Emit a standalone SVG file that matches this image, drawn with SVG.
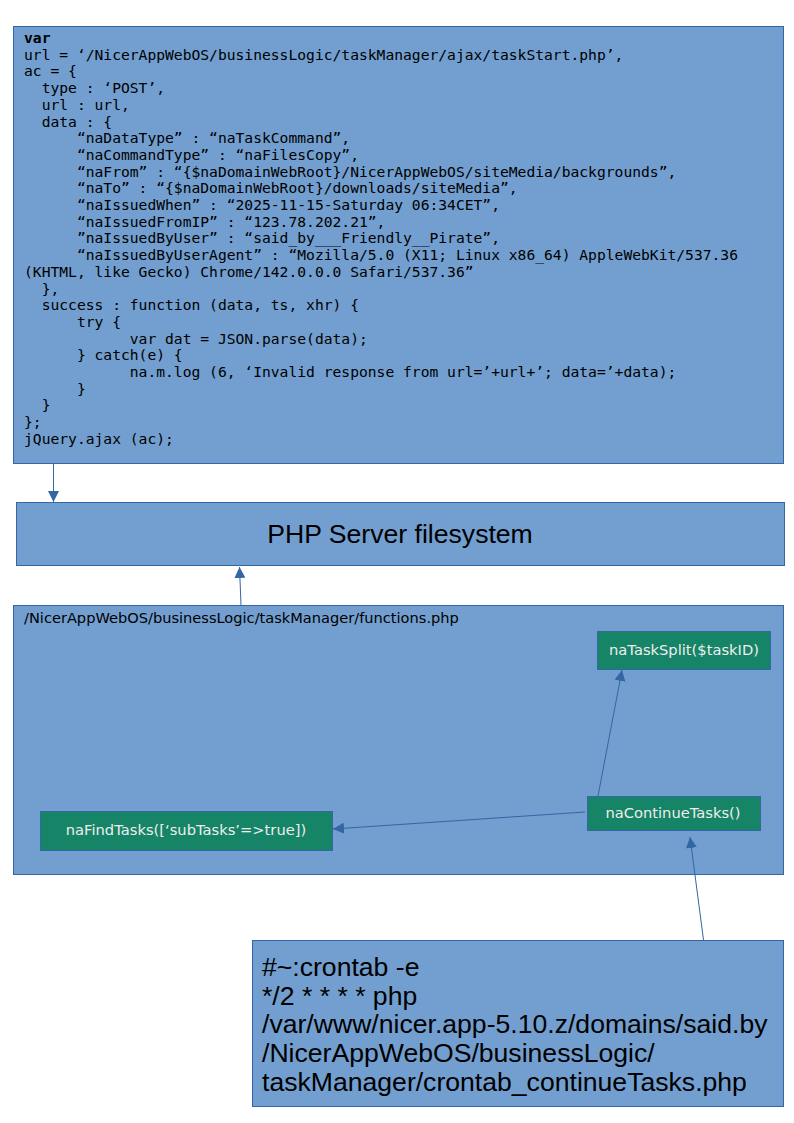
<svg xmlns="http://www.w3.org/2000/svg" width="794" height="1123" viewBox="0 0 794 1123">
<defs>
<marker id="ah" viewBox="0 0 10 10" refX="10" refY="5" markerWidth="11" markerHeight="11" markerUnits="userSpaceOnUse" orient="auto">
<path d="M0,0 L10,5 L0,10 z" fill="#3465a4"/>
</marker>
</defs>
<style>
.box{fill:#729fcf;stroke:#3465a4;stroke-width:1}
.fn{fill:#168466;stroke:#3465a4;stroke-width:1}
.code{font-family:"DejaVu Sans Mono",monospace;font-size:14.65px;fill:#000;white-space:pre}
.fnt{font-family:"DejaVu Sans",sans-serif;font-size:14.7px;fill:#eeeeee;text-anchor:middle}
.con{stroke:#3465a4;stroke-width:1;fill:none;marker-end:url(#ah)}
.big{font-family:"Liberation Sans",Arial,sans-serif;font-size:26.6px;fill:#000}
</style>
<rect width="794" height="1123" fill="#fff"/>
<g id="code">
<rect class="box" x="13.5" y="26.5" width="770" height="437"/>
<text class="code" xml:space="preserve">
<tspan x="24" y="43" font-weight="bold">var</tspan>
<tspan x="24" y="59.7">url = ‘/NicerAppWebOS/businessLogic/taskManager/ajax/taskStart.php’,</tspan>
<tspan x="24" y="76.4">ac = {</tspan>
<tspan x="24" y="93.1">  type : ‘POST’,</tspan>
<tspan x="24" y="109.8">  url : url,</tspan>
<tspan x="24" y="126.5">  data : {</tspan>
<tspan x="24" y="143.2">      “naDataType” : “naTaskCommand”,</tspan>
<tspan x="24" y="159.9">      “naCommandType” : “naFilesCopy”,</tspan>
<tspan x="24" y="176.6">      “naFrom” : “{$naDomainWebRoot}/NicerAppWebOS/siteMedia/backgrounds”,</tspan>
<tspan x="24" y="193.3">      “naTo” : “{$naDomainWebRoot}/downloads/siteMedia”,</tspan>
<tspan x="24" y="210">      “naIssuedWhen” : “2025-11-15-Saturday 06:34CET”,</tspan>
<tspan x="24" y="226.7">      “naIssuedFromIP” : “123.78.202.21”,</tspan>
<tspan x="24" y="243.4">      ”naIssuedByUser” : “said_by___Friendly__Pirate”,</tspan>
<tspan x="24" y="260.1">      “naIssuedByUserAgent” : “Mozilla/5.0 (X11; Linux x86_64) AppleWebKit/537.36</tspan>
<tspan x="24" y="276.8">(KHTML, like Gecko) Chrome/142.0.0.0 Safari/537.36”</tspan>
<tspan x="24" y="293.5">  },</tspan>
<tspan x="24" y="310.2">  success : function (data, ts, xhr) {</tspan>
<tspan x="24" y="326.9">      try {</tspan>
<tspan x="24" y="343.6">            var dat = JSON.parse(data);</tspan>
<tspan x="24" y="360.3">      } catch(e) {</tspan>
<tspan x="24" y="377">            na.m.log (6, ‘Invalid response from url=’+url+’; data=’+data);</tspan>
<tspan x="24" y="393.7">      }</tspan>
<tspan x="24" y="410.4">  }</tspan>
<tspan x="24" y="427.1">};</tspan>
<tspan x="24" y="443.8">jQuery.ajax (ac);</tspan>
</text>
</g>
<g id="php">
<rect class="box" x="16.5" y="502.5" width="768" height="63"/>
<text class="big" x="400" y="543" text-anchor="middle">PHP Server filesystem</text>
</g>
<g id="functions">
<rect class="box" x="13.5" y="605.5" width="770" height="269"/>
<text x="24" y="623" font-family="DejaVu Sans, sans-serif" font-size="14.6px" fill="#000">/NicerAppWebOS/businessLogic/taskManager/functions.php</text>
</g>
<g id="naTaskSplit">
<rect class="fn" x="597.5" y="631.5" width="173" height="38"/>
<text class="fnt" x="684" y="655">naTaskSplit($taskID)</text>
</g>
<g id="naContinueTasks">
<rect class="fn" x="587.5" y="796.5" width="173" height="34"/>
<text class="fnt" x="673" y="818" font-family="Liberation Sans, Arial, sans-serif" font-size="13.5px">naContinueTasks()</text>
</g>
<g id="naFindTasks">
<rect class="fn" x="40.5" y="811.5" width="292" height="39"/>
<text class="fnt" x="186" y="835">naFindTasks([‘subTasks’=&gt;true])</text>
</g>
<g id="crontab">
<rect class="box" x="252.5" y="940.5" width="531" height="166"/>
<text class="big" x="262">
<tspan x="262" y="976">#~:crontab -e</tspan>
<tspan x="262" y="1004.7">*/2 * * * * php</tspan>
<tspan x="262" y="1033.4">/var/www/nicer.app-5.10.z/domains/said.by</tspan>
<tspan x="262" y="1062.1">/NicerAppWebOS/businessLogic/</tspan>
<tspan x="262" y="1090.8">taskManager/crontab_continueTasks.php</tspan>
</text>
</g>
<g id="connectors">
<line class="con" x1="53.5" y1="464" x2="53.5" y2="502"/>
<line class="con" x1="241" y1="605" x2="239.5" y2="567"/>
<line class="con" x1="598" y1="796" x2="622" y2="670"/>
<line class="con" x1="585" y1="812" x2="333" y2="829"/>
<line class="con" x1="703.5" y1="940" x2="690" y2="837"/>
</g>
</svg>
